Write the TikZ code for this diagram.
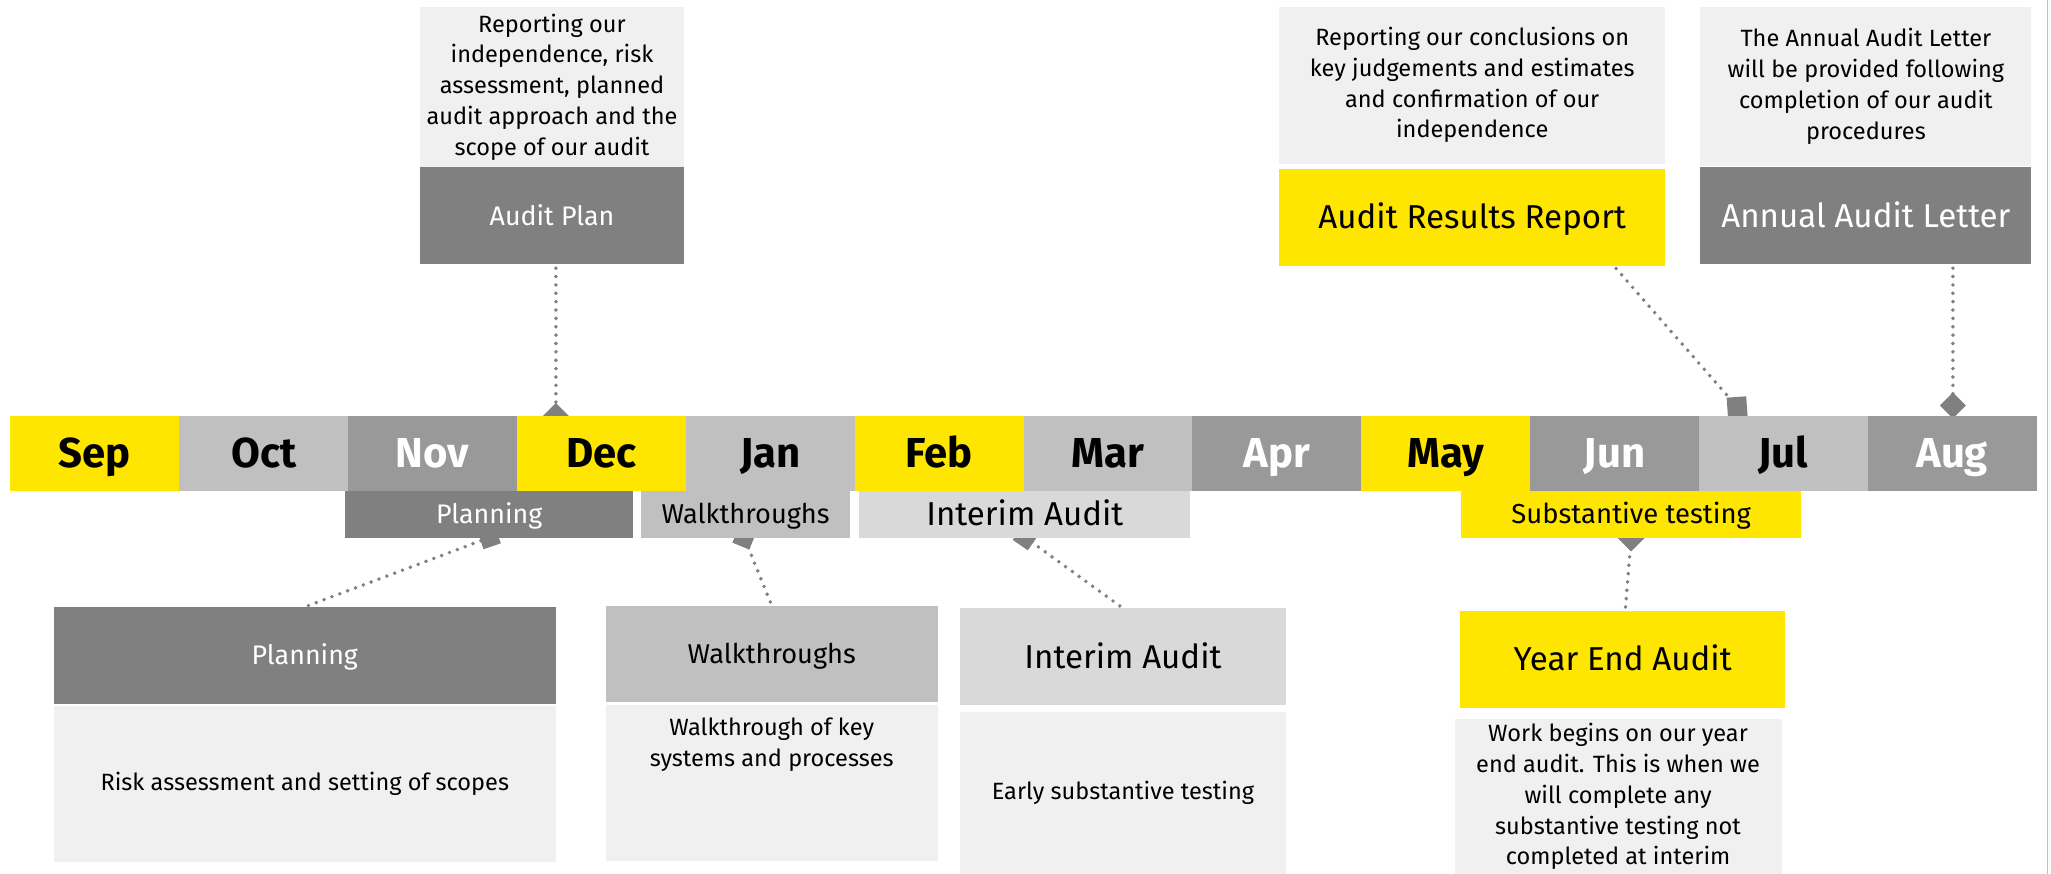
\documentclass[tikz,border=0pt]{standalone}
\usepackage{fontspec}
\setmainfont{Fira Sans}
\usepackage{tikz}
\usetikzlibrary{positioning}
\usetikzlibrary{calc}
\usetikzlibrary{backgrounds}
\definecolor{eyyellow}{HTML}{FFE600}
\definecolor{eydark}{HTML}{808080}
\definecolor{eymid}{HTML}{999999}
\definecolor{eylight}{HTML}{C0C0C0}
\definecolor{eypale}{HTML}{D9D9D9}
\definecolor{eyback}{HTML}{F0F0F0}
\tikzset{basic box/.style={rectangle,inner sep=0pt,outer sep=0pt,align=center}}
\tikzset{month box/.style={basic box,anchor=north west,minimum width=129.1pt,
                           minimum height=57pt,text height=22pt,text depth=0pt,
                           font=\fontsize{32}{32}\selectfont\bfseries}}
\tikzset{info box/.style={basic box,fill=eyback,font=\fontsize{18}{23.5}\selectfont}}
\tikzset{info text/.style={basic box,font=\fontsize{18}{23.5}\selectfont}}
\tikzset{title box/.style={basic box,minimum height=74pt}}
\tikzset{phase bar/.style={basic box,anchor=north west,minimum height=36pt}}
\tikzset{link/.style={draw=eydark,
                      line width=3pt,
                      line cap=round,
                      dash pattern=on 0pt off 6.4pt,
                      shorten <=3pt}}
\tikzset{tip square/.style={rectangle,fill=eydark,inner sep=0pt,outer sep=0pt,minimum size=14pt}}

\begin{document}
\begin{tikzpicture}
      [
      x=1pt,y=-1pt,
      small title/.style={font=\fontsize{20.5}{20.5}\selectfont,text height=14.1pt,text depth=0pt},
      mid title/.style={font=\fontsize{20.8}{20.8}\selectfont,text height=14.3pt,text depth=0pt},
      big title/.style={font=\fontsize{25.3}{25.3}\selectfont,text height=17.4pt,text depth=0pt},
      ]
      \useasboundingbox (0,0) rectangle (1568,668);

      % months
      \foreach \i/\m/\c/\t [evaluate=\i as \x using 8+\i*129.08] in
      {
      0/Sep/eyyellow/black,
      1/Oct/eylight/black,
      2/Nov/eymid/white,
      3/Dec/eyyellow/black,
      4/Jan/eylight/black,
      5/Feb/eyyellow/black,
      6/Mar/eylight/black,
      7/Apr/eymid/white,
      8/May/eyyellow/black,
      9/Jun/eymid/white,
      10/Jul/eylight/black,
      11/Aug/eymid/white}
      {
      \node [month box,fill=\c,text=\t] (\m) at (\x,318) {\m};
      }

      % phases under the months
      \node [phase bar,small title,fill=eydark,text=white,minimum width=220pt] (planbar) at (264,375) {Planning};
      \node [phase bar,mid title,fill=eylight,minimum width=160pt] (walkbar) at (490,375) {Walkthroughs};
      \node [phase bar,big title,fill=eypale,minimum width=253pt] (interbar) at (657,375) {Interim Audit};
      \node [phase bar,mid title,font=\fontsize{21}{21}\selectfont,fill=eyyellow,minimum width=260pt] (subbar) at (1117,375) {Substantive testing};

      % reports above
      \node [info box,anchor=north west,minimum width=202pt,minimum height=123pt] (apinfo) at (321,5)
      {Reporting our\\independence, risk\\assessment, planned\\audit approach and the\\scope of our audit};
      \node [title box,small title,fill=eydark,text=white,minimum width=202pt,below=0pt of apinfo] (aptitle) {Audit Plan};

      \node [info box,anchor=north west,minimum width=295pt,minimum height=120pt] (arinfo) at (978,5)
      {Reporting our conclusions on\\key judgements and estimates\\and confirmation of our\\independence};
      \node [title box,big title,fill=eyyellow,minimum width=295pt,below=4pt of arinfo] (artitle) {Audit Results Report};

      \node [info box,anchor=north west,minimum width=253pt,minimum height=122pt] (alinfo) at (1300,5)
      {The Annual Audit Letter\\will be provided following\\completion of our audit\\procedures};
      \node [title box,big title,fill=eydark,text=white,minimum width=253pt,below=1pt of alinfo] (altitle) {Annual Audit Letter};

      % work below
      \node [title box,small title,fill=eydark,text=white,anchor=north west,minimum width=384pt] (pltitle) at (41,464) {Planning};
      \node [info box,minimum width=384pt,minimum height=119pt,below=2pt of pltitle] (plinfo)
      {Risk assessment and setting of scopes};

      \node [title box,mid title,fill=eylight,anchor=north west,minimum width=254pt] (wktitle) at (463,463) {Walkthroughs};
      \node [info box,minimum width=254pt,minimum height=119pt,below=2pt of wktitle] (wkinfo) {};
      \node [info text,below=10pt of wkinfo.north] (wktext) {Walkthrough of key\\systems and processes};

      \node [title box,big title,fill=eypale,anchor=north west,minimum width=249pt] (ittitle) at (734,465) {Interim Audit};
      \node [info box,minimum width=249pt,minimum height=124pt,below=5pt of ittitle] (itinfo)
      {Early substantive testing};

      \node [title box,big title,fill=eyyellow,anchor=north west,minimum width=249pt] (yetitle) at (1116,467) {Year End Audit};
      \node [info box,anchor=north west,minimum width=250pt,minimum height=118pt] (yeinfo) at (1112,550)
      {Work begins on our year\\end audit. This is when we\\will complete any\\substantive testing not\\completed at interim};

      % links, behind the bars
      \begin{scope}[on background layer]
      \node [tip square,rotate=45] (tipdec) at (425,318) {};
      \node [tip square,rotate=4,minimum size=15pt] (tipjul) at (1328,311) {};
      \node [tip square,rotate=45] (tipaug) at (1493,310) {};
      \node [tip square,rotate=19] (tipplan) at (374,411) {};
      \node [tip square,rotate=-22] (tipwalk) at (569,411) {};
      \node [tip square,rotate=-35] (tipinter) at (784,411) {};
      \node [tip square,rotate=45,minimum size=15pt] (tipsub) at (1247,411) {};

      \path [link] (aptitle.south -| tipdec) -- (tipdec.center);
      \path [link] ([xshift=108pt]artitle.south) -- (tipjul.center);
      \path [link] (altitle.south -| tipaug) -- (tipaug.center);
      \path [link] (pltitle.north) -- (tipplan.center);
      \path [link] (wktitle.north) -- (tipwalk.center);
      \path [link] (ittitle.north) -- (tipinter.center);
      \path [link] ([xshift=2pt]yetitle.north) -- (tipsub.center);
      \end{scope}

      % right edge
      \draw [eylight,line width=0.8pt] (1565,0) -- (1565,668);

\end{tikzpicture}
\end{document}
